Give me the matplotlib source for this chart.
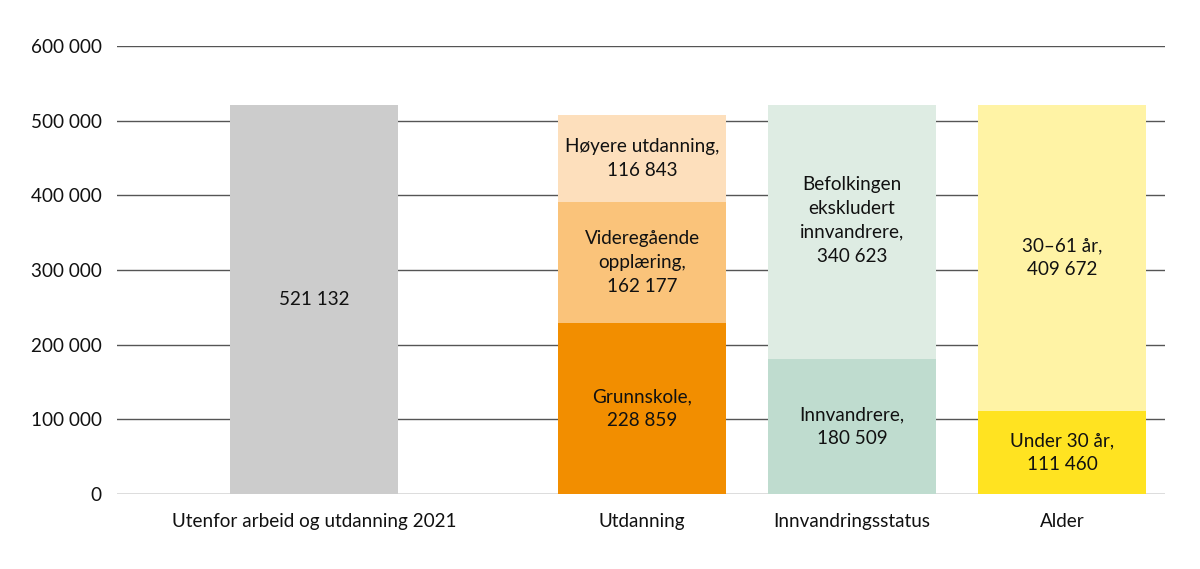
import matplotlib
matplotlib.use("Agg")
import matplotlib.pyplot as plt

plt.rcParams['font.family'] = ['Lato', 'DejaVu Sans']

categories = ["Utenfor arbeid og utdanning 2021", "Utdanning", "Innvandringsstatus", "Alder"]
positions = [0.44, 2.0, 3.0, 4.0]

total_values = [521132]
total_labels = ["521 132"]

utd_values = [228859, 162177, 116843]
utd_labels = ["Grunnskole,\n228 859", "Videregående\nopplæring,\n162 177", "Høyere utdanning,\n116 843"]
utd_colors = ["#f28e00", "#fac37a", "#fddfbc"]

innv_values = [180509, 340623]
innv_labels = ["Innvandrere,\n180 509", "Befolkingen\nekskludert\ninnvandrere,\n340 623"]
innv_colors = ["#bfdccf", "#deece3"]

alder_values = [111460, 409672]
alder_labels = ["Under 30 år,\n111 460", "30–61 år,\n409 672"]
alder_colors = ["#ffe321", "#fff3a5"]

yticks = [0, 100000, 200000, 300000, 400000, 500000, 600000]
ytick_labels = ["0", "100 000", "200 000", "300 000", "400 000", "500 000", "600 000"]

fig = plt.figure(figsize=(12, 5.69), dpi=100)
ax = fig.add_axes([0.0975, 0.1318, 0.8733, 0.7874])

width = 0.8
fs = 13.6

def stack(x, values, labels, colors, offsets=None):
    bottom = 0
    offsets = offsets or [0] * len(values)
    for v, lab, c, off in zip(values, labels, colors, offsets):
        ax.bar(x, v, width=width, bottom=bottom, color=c, zorder=3, linewidth=0)
        ax.text(x, bottom + v / 2 + off, lab, ha="center", va="center", fontsize=fs,
                linespacing=1.5, color="#111111", zorder=4)
        bottom += v

stack(positions[0], total_values, total_labels, ["#cccccc"])
stack(positions[1], utd_values, utd_labels, utd_colors)
stack(positions[2], innv_values, innv_labels, innv_colors, offsets=[0, 16000])
stack(positions[3], alder_values, alder_labels, alder_colors)

ax.set_xlim(-0.5, 4.49)
ax.set_ylim(0, 600000)
ax.set_yticks(yticks)
ax.set_yticklabels(ytick_labels, fontsize=fs, color="#111111")
ax.set_xticks(positions)
ax.set_xticklabels(categories, fontsize=fs, color="#111111")
ax.tick_params(axis="both", length=0)
ax.tick_params(axis="y", pad=11)
ax.tick_params(axis="x", pad=14)
ax.yaxis.grid(True, color="#555555", linewidth=1.0, zorder=0)
ax.set_axisbelow(True)
for s in ax.spines.values():
    s.set_visible(False)

fig.savefig("out.png", dpi=100)
